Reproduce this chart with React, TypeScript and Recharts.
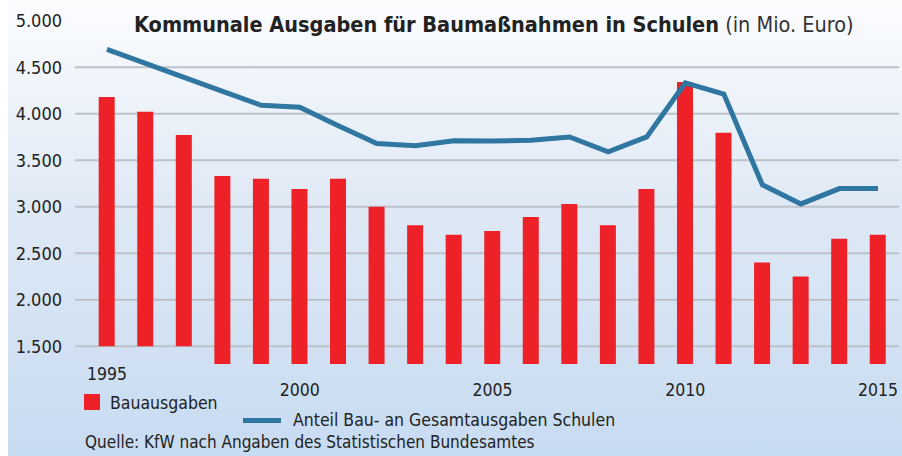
import React from 'react';
import { ComposedChart, Bar, Line, XAxis, YAxis, CartesianGrid } from 'recharts';

const years = [
  '1995', '1996', '1997', '1998', '1999', '2000', '2001', '2002', '2003', '2004', '2005',
  '2006', '2007', '2008', '2009', '2010', '2011', '2012', '2013', '2014', '2015',
];
const bauausgaben = [
  4180, 4020, 3770, 3330, 3300, 3190, 3300, 3000, 2800, 2700, 2740,
  2890, 3030, 2800, 3190, 4340, 3795, 2400, 2250, 2655, 2700,
];
const anteil = [
  4690, 4540, 4390, 4240, 4090, 4070, 3870, 3680, 3655, 3710, 3705,
  3715, 3750, 3590, 3750, 4330, 4210, 3235, 3030, 3195, 3195,
];
const yTicks = [1500, 2000, 2500, 3000, 3500, 4000, 4500, 5000];
const gridValues = [1500, 2000, 2500, 3000, 3500, 4000, 4500];
// the first three bars only reach down to the 1.500 line
const shortBars = ['1995', '1996', '1997'];
const shownYears = ['1995', '2000', '2005', '2010', '2015'];

const Y_MIN = 1310;
const Y_MAX = 5000;

const RED = '#ed2127';
const BLUE = '#2f76a1';
const TEXT = '#222';
const FONT = "'Liberation Sans Narrow', 'DejaVu Sans Condensed', sans-serif";

const data = years.map((year, i) => ({
  year,
  bau: [shortBars.includes(year) ? 1500 : Y_MIN, bauausgaben[i]],
  anteil: anteil[i],
}));

const fmt = (v: number) => String(v).replace(/\B(?=(\d{3})+(?!\d))/g, '.');

const YearTick = (props: any) => {
  const { x, y, payload } = props;
  if (!shownYears.includes(payload.value)) return null;
  const off = payload.value === '1995' ? 8 : 24;
  return (
    <text x={x} y={y + off} dy="0.35em" textAnchor="middle" fill={TEXT} fontSize={17.5} fontFamily={FONT}>
      {payload.value}
    </text>
  );
};

const label = (top: number, left: number, size: number): React.CSSProperties => ({
  position: 'absolute',
  top,
  left,
  fontSize: size,
  lineHeight: '24px',
  fontFamily: FONT,
  color: TEXT,
  whiteSpace: 'nowrap',
});

export default function App() {
  return (
    <div
      style={{
        position: 'absolute',
        top: 0,
        left: 8,
        width: 894,
        height: 456,
        background: 'linear-gradient(to bottom, #fbfcfe 0%, #dfe9f5 45%, #c7dbf1 100%)',
      }}
    >
      <ComposedChart
        width={894}
        height={456}
        data={data}
        margin={{ top: 20.6, right: 3, left: 0, bottom: 52 }}
        barSize={16}
      >
        <CartesianGrid vertical={false} horizontalValues={gridValues} stroke="#bcc2ca" strokeWidth={2} />
        <XAxis
          dataKey="year"
          axisLine={false}
          tickLine={false}
          tickSize={0}
          interval={0}
          height={40}
          padding={{ left: 12.7, right: 1.7 }}
          tick={<YearTick />}
        />
        <YAxis
          type="number"
          domain={[Y_MIN, Y_MAX]}
          ticks={yTicks}
          width={67}
          axisLine={false}
          tickLine={false}
          tickSize={0}
          tickMargin={13}
          tickFormatter={fmt}
          tick={{ fill: TEXT, fontSize: 18, fontFamily: FONT }}
          allowDataOverflow
        />
        <Bar dataKey="bau" fill={RED} isAnimationActive={false} />
        <Line
          dataKey="anteil"
          type="linear"
          stroke={BLUE}
          strokeWidth={5}
          dot={false}
          activeDot={false}
          isAnimationActive={false}
        />
      </ComposedChart>

      <div style={label(13, 126, 21.5)}>
        <span style={{ fontWeight: 'bold' }}>Kommunale Ausgaben für Baumaßnahmen in Schulen</span>
        <span style={{ color: '#333' }}> (in Mio. Euro)</span>
      </div>

      <div style={{ position: 'absolute', left: 76, top: 394, width: 16, height: 16, background: RED }} />
      <div style={label(391, 102, 17.5)}>Bauausgaben</div>

      <div style={{ position: 'absolute', left: 235, top: 418, width: 38, height: 5, background: BLUE }} />
      <div style={label(408, 285, 17.5)}>Anteil Bau- an Gesamtausgaben Schulen</div>

      <div style={label(430, 77, 17)}>Quelle: KfW nach Angaben des Statistischen Bundesamtes</div>
    </div>
  );
}
